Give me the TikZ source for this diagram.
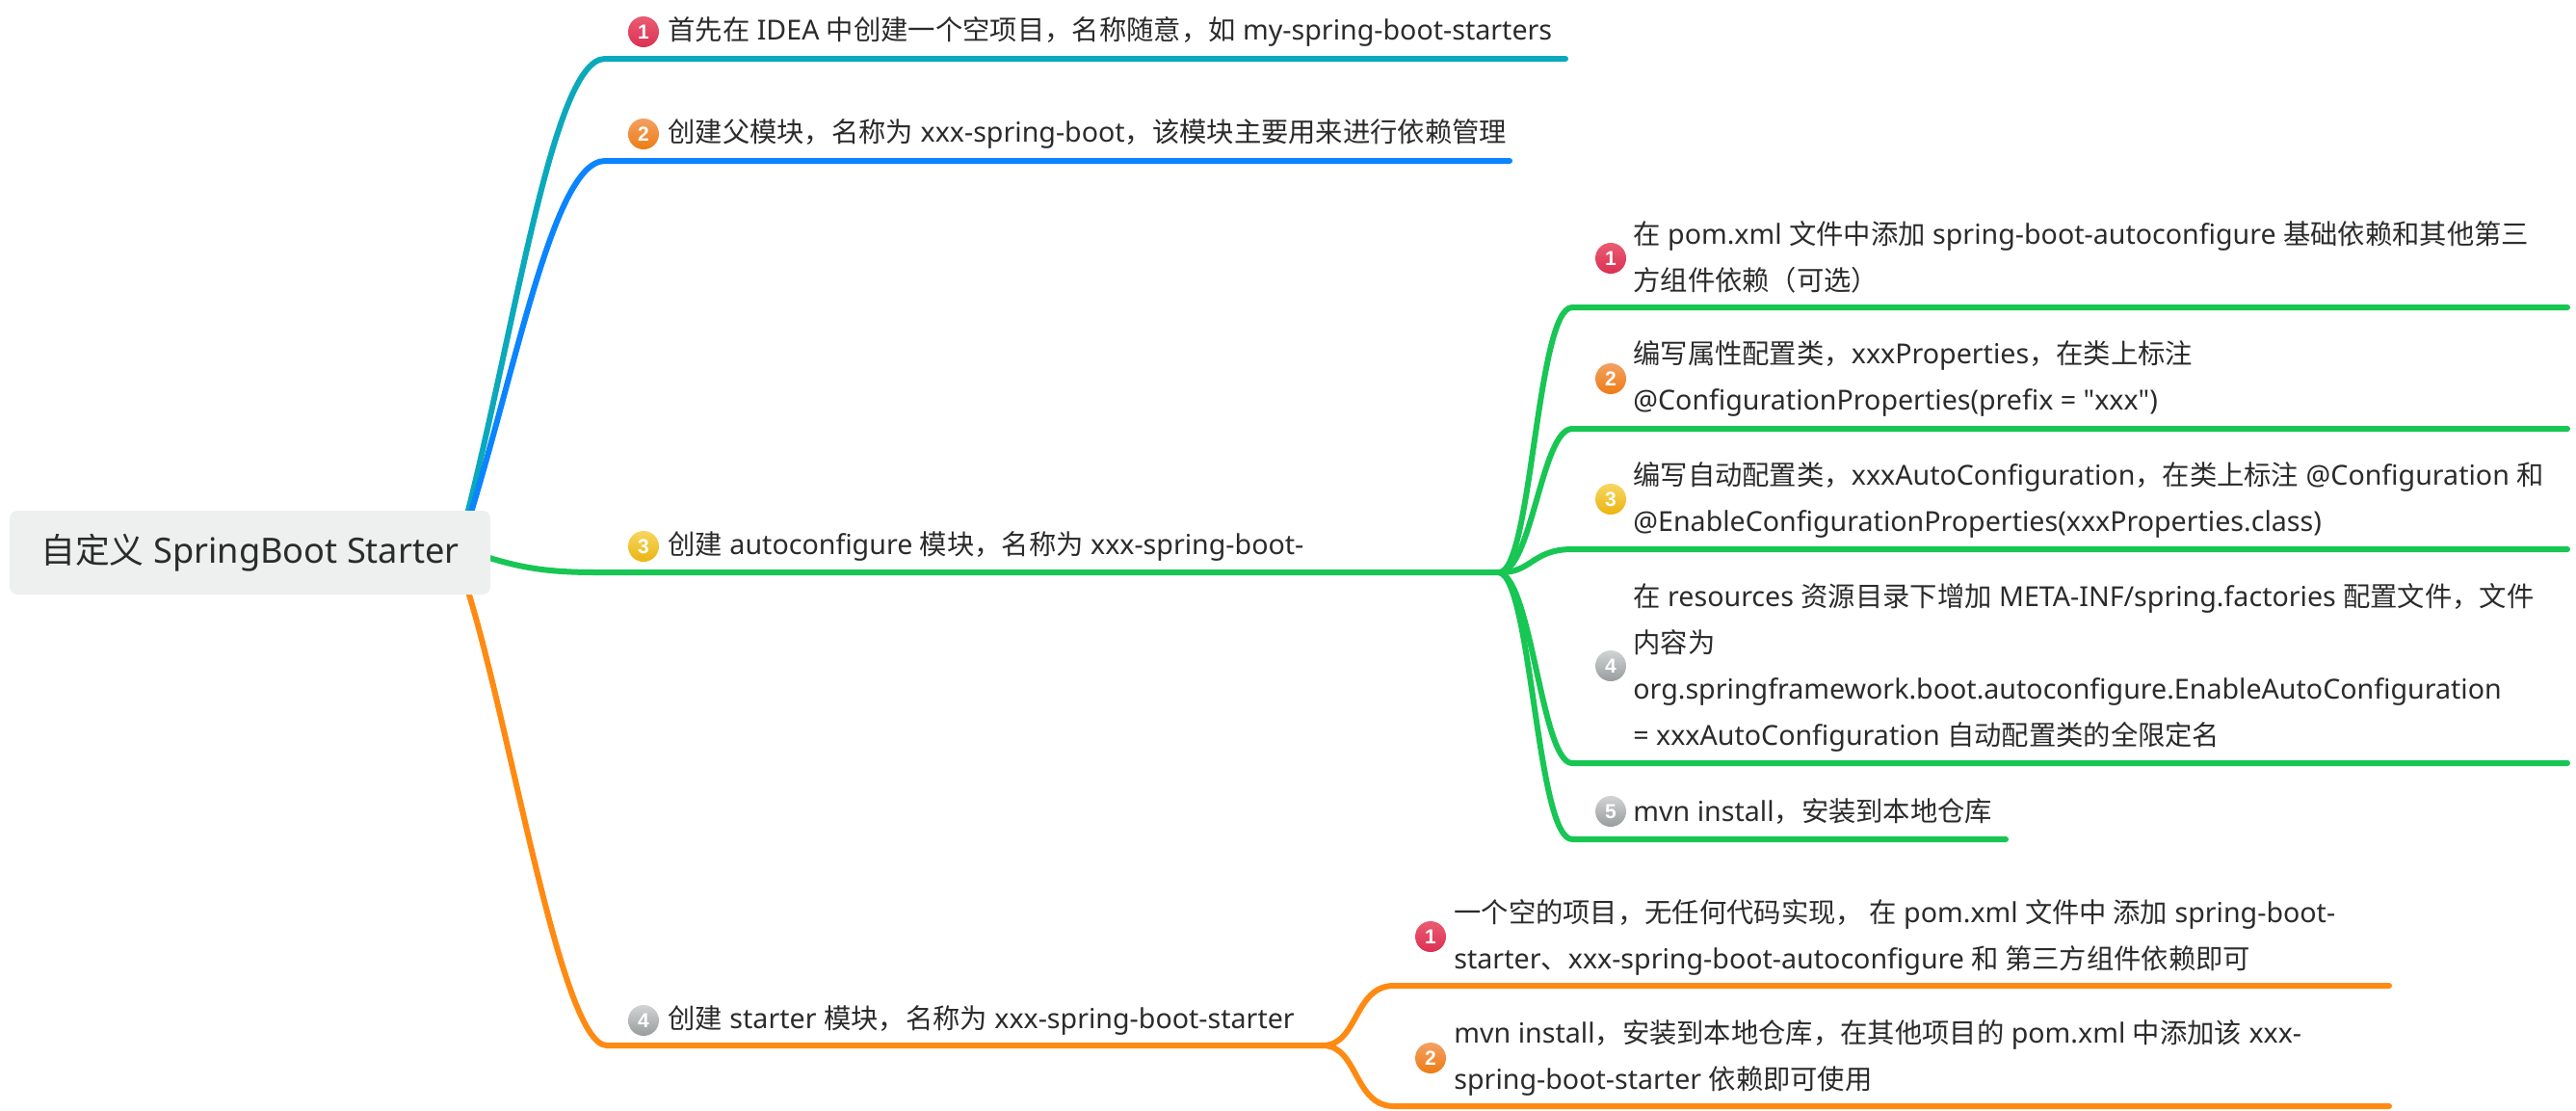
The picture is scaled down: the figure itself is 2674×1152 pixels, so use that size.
\documentclass[tikz,border=0pt]{standalone}
\usepackage{fontspec}
\setmainfont{Noto Sans}
\newfontfamily\latf{Noto Sans}
\newfontfamily\zhf[Scale=0.99]{Noto Sans CJK SC}
\newfontfamily\numf{Liberation Sans}[BoldFont={Liberation Sans Bold}]
\newcommand{\Z}[1]{{\zhf #1}}
\usetikzlibrary{backgrounds}
\definecolor{inkc}{HTML}{2B2B2B}
\definecolor{tealc}{HTML}{0AA9BC}
\definecolor{bluec}{HTML}{0A84FF}
\definecolor{greenc}{HTML}{17C653}
\definecolor{orangec}{HTML}{FF8A12}
\definecolor{rootc}{HTML}{EEF0F0}
\tikzset{
 x=0.5pt,y=-0.5pt,
 rootnode/.style={fill=rootc,rounded corners=4pt,minimum width=249.5pt,minimum height=43.5pt,inner sep=0pt,text=inkc,font=\latf\fontsize{18.1}{24}\selectfont},
 txt/.style={anchor=west,inner sep=0pt,align=left,text=inkc,font=\latf\fontsize{14.3}{24}\selectfont},
 ball/.style={circle,minimum size=16pt,inner sep=0pt,text=white,font=\numf\bfseries\fontsize{10.5}{10.5}\selectfont},
 ballred/.style={ball,top color=E1,bottom color=E2},
 ballorange/.style={ball,top color=O1,bottom color=O2},
 ballyellow/.style={ball,top color=Y1,bottom color=Y2},
 ballgray/.style={ball,top color=G1,bottom color=G2},
 branch/.style={line width=3pt,line cap=round},
}
\definecolor{E1}{HTML}{EA5C72}\definecolor{E2}{HTML}{DC3052}
\definecolor{O1}{HTML}{F3A063}\definecolor{O2}{HTML}{EE7C14}
\definecolor{Y1}{HTML}{F6D660}\definecolor{Y2}{HTML}{EBB512}
\definecolor{G1}{HTML}{D2D4D4}\definecolor{G2}{HTML}{989C9C}
\begin{document}
\begin{tikzpicture}
\useasboundingbox (0,0) rectangle (2674,1152);
\node[rootnode] (root) at (259.5,573.5) {\Z{自定义} SpringBoot Starter};
% first level
\node[ballred] (i1) at (668,33) {1};
\node[txt] (t1) at (693,33) {\Z{首先在} IDEA \Z{中创建一个空项目，名称随意，如} my-spring-boot-starters};
\node[ballorange] (i2) at (668,139) {2};
\node[txt] (t2) at (693,139) {\Z{创建父模块，名称为} xxx-spring-boot\Z{，该模块主要用来进行依赖管理}};
\node[ballyellow] (i3) at (668,567) {3};
\node[txt] (t3) at (693,567) {\Z{创建} autoconfigure \Z{模块，名称为} xxx-spring-boot-};
\node[ballgray] (i4) at (668,1059) {4};
\node[txt] (t4) at (693,1059) {\Z{创建} starter \Z{模块，名称为} xxx-spring-boot-starter};
% second level, green
\node[ballred] (a1) at (1672,268) {1};
\node[txt] (ta1) at (1695,267) {\Z{在} pom.xml \Z{文件中添加} spring-boot-autoconfigure \Z{基础依赖和其他第三}\\\Z{方组件依赖（可选）}};
\node[ballorange] (a2) at (1672,393) {2};
\node[txt] (ta2) at (1695,393) {\Z{编写属性配置类，}xxxProperties\Z{，在类上标注}\\@ConfigurationProperties(prefix = "xxx")};
\node[ballyellow] (a3) at (1672,518) {3};
\node[txt] (ta3) at (1695,519) {\Z{编写自动配置类，}xxxAutoConfiguration\Z{，在类上标注} @Configuration \Z{和}\\@EnableConfigurationProperties(xxxProperties.class)};
\node[ballgray] (a4) at (1672,691) {4};
\node[txt] (ta4) at (1695,693) {\Z{在} resources \Z{资源目录下增加} META-INF/spring.factories \Z{配置文件，文件}\\\Z{内容为}\\org.springframework.boot.autoconfigure.EnableAutoConfiguration\\= xxxAutoConfiguration \Z{自动配置类的全限定名}};
\node[ballgray] (a5) at (1672,842) {5};
\node[txt] (ta5) at (1695,842) {mvn install\Z{，安装到本地仓库}};
% second level, orange
\node[ballred] (b1) at (1485,972) {1};
\node[txt] (tb1) at (1509,973) {\Z{一个空的项目，无任何代码实现，~在} pom.xml \Z{文件中~添加} spring-boot-\\starter\Z{、}xxx-spring-boot-autoconfigure \Z{和~第三方组件依赖即可}};
\node[ballorange] (b2) at (1485,1098) {2};
\node[txt] (tb2) at (1509,1098) {mvn install\Z{，安装到本地仓库，在其他项目的} pom.xml \Z{中添加该} xxx-\\spring-boot-starter \Z{依赖即可使用}};
% junctions and line ends
\coordinate (rs) at (470,590);
\coordinate (rg) at (470,566);
\coordinate (ro) at (478,590);
\coordinate (l1) at (628,61); \coordinate (e1) at (1625,61);
\coordinate (l2) at (628,167); \coordinate (e2) at (1567,167);
\coordinate (j3) at (1556,594); \coordinate (l3) at (620,594);
\coordinate (j4) at (1373,1085); \coordinate (l4) at (630,1085);
\coordinate (la) at (1632,319); \coordinate (ea) at (2665,319);
\coordinate (lb) at (1632,445); \coordinate (eb) at (2665,445);
\coordinate (lc) at (1632,570); \coordinate (ec) at (2665,570);
\coordinate (ld) at (1632,792); \coordinate (ed) at (2665,792);
\coordinate (le) at (1632,871); \coordinate (ee) at (2082,871);
\coordinate (lf) at (1447,1023); \coordinate (ef) at (2480,1023);
\coordinate (lg) at (1447,1148); \coordinate (eg) at (2480,1148);
\begin{scope}[on background layer]
\draw[branch,tealc] (rs) .. controls (530,380) and (570,61) .. (l1) -- (e1);
\draw[branch,bluec] (rs) .. controls (530,420) and (570,167) .. (l2) -- (e2);
\draw[branch,greenc] (rg) .. controls (530,588) and (560,594) .. (l3) -- (j3);
\draw[branch,orangec] (ro) .. controls (525,720) and (580,1085) .. (l4) -- (j4);
\draw[branch,greenc] (j3) .. controls (1590,595) and (1595,319) .. (la) -- (ea);
\draw[branch,greenc] (j3) .. controls (1590,595) and (1600,445) .. (lb) -- (eb);
\draw[branch,greenc] (j3) .. controls (1590,595) and (1590,570) .. (lc) -- (ec);
\draw[branch,greenc] (j3) .. controls (1590,600) and (1600,792) .. (ld) -- (ed);
\draw[branch,greenc] (j3) .. controls (1590,600) and (1595,871) .. (le) -- (ee);
\draw[branch,orangec] (j4) .. controls (1410,1085) and (1405,1023) .. (lf) -- (ef);
\draw[branch,orangec] (j4) .. controls (1410,1085) and (1405,1148) .. (lg) -- (eg);
\end{scope}
\end{tikzpicture}
\end{document}
